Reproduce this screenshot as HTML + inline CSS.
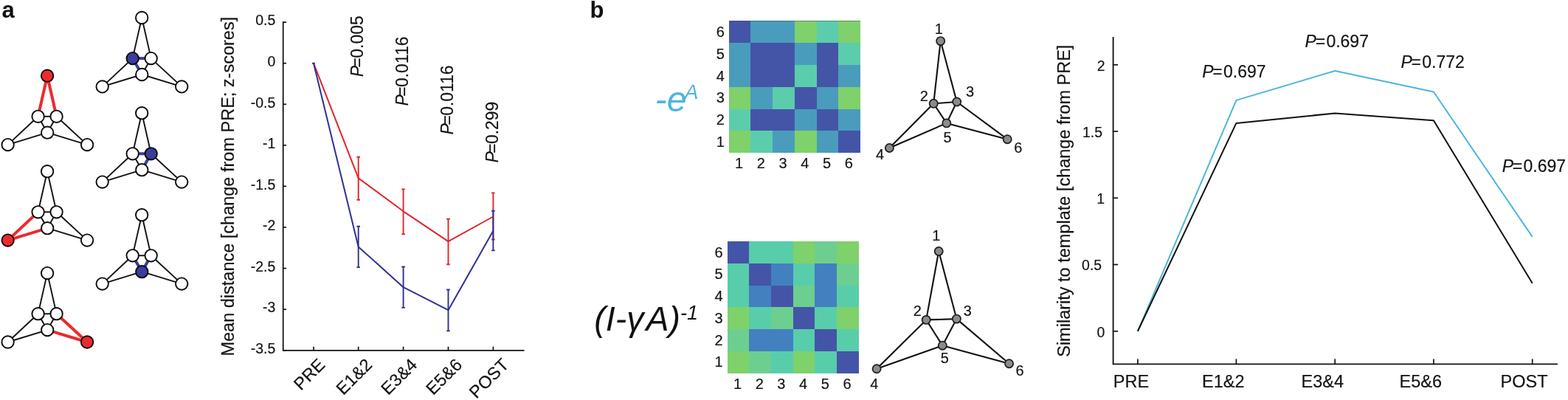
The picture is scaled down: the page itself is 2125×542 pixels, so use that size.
<!DOCTYPE html>
<html lang="en">
<head>
<meta charset="utf-8">
<title>Figure</title>
<style>
html,body{margin:0;padding:0;background:#fff;}
body{width:2125px;height:542px;overflow:hidden;}
svg{display:block;font-family:"Liberation Sans", Arial, Helvetica, sans-serif;fill:#111111;}
svg text{white-space:pre;stroke:#111111;stroke-width:0.15px;stroke-linejoin:round;}
svg text.b{stroke:none;}
svg text.lb{stroke:none;fill:#4db5dd;}
</style>
</head>
<body>
<svg width="2125" height="542" viewBox="0 0 2125 542">
<rect x="0" y="0" width="2125" height="542" fill="#ffffff"/>
<text x="2.5" y="24.4" font-size="31" font-weight="bold" class="b">a</text>
<text x="799.4" y="24.4" font-size="31" font-weight="bold" class="b">b</text>
<g><line x1="51.6" y1="157.8" x2="76.6" y2="157.8" stroke="#111111" stroke-width="1.9"/><line x1="51.6" y1="157.8" x2="64.2" y2="179.7" stroke="#111111" stroke-width="1.9"/><line x1="76.6" y1="157.8" x2="64.2" y2="179.7" stroke="#111111" stroke-width="1.9"/><line x1="51.6" y1="157.8" x2="10.6" y2="196.1" stroke="#111111" stroke-width="1.9"/><line x1="10.6" y1="196.1" x2="64.2" y2="179.7" stroke="#111111" stroke-width="1.9"/><line x1="76.6" y1="157.8" x2="118.1" y2="196.1" stroke="#111111" stroke-width="1.9"/><line x1="64.2" y1="179.7" x2="118.1" y2="196.1" stroke="#111111" stroke-width="1.9"/><line x1="64.1" y1="102.7" x2="51.6" y2="157.8" stroke="#ec2a2e" stroke-width="4"/><line x1="64.1" y1="102.7" x2="76.6" y2="157.8" stroke="#ec2a2e" stroke-width="4"/><circle cx="64.1" cy="102.7" r="8.2" fill="#ec2a2e" stroke="#0a0a0a" stroke-width="1.9"/><circle cx="51.6" cy="157.8" r="8.2" fill="#fff" stroke="#0a0a0a" stroke-width="1.9"/><circle cx="76.6" cy="157.8" r="8.2" fill="#fff" stroke="#0a0a0a" stroke-width="1.9"/><circle cx="64.2" cy="179.7" r="8.2" fill="#fff" stroke="#0a0a0a" stroke-width="1.9"/><circle cx="10.6" cy="196.1" r="8.2" fill="#fff" stroke="#0a0a0a" stroke-width="1.9"/><circle cx="118.1" cy="196.1" r="8.2" fill="#fff" stroke="#0a0a0a" stroke-width="1.9"/></g>
<g><line x1="64.1" y1="232.2" x2="51.6" y2="287.3" stroke="#111111" stroke-width="1.9"/><line x1="64.1" y1="232.2" x2="76.6" y2="287.3" stroke="#111111" stroke-width="1.9"/><line x1="51.6" y1="287.3" x2="76.6" y2="287.3" stroke="#111111" stroke-width="1.9"/><line x1="51.6" y1="287.3" x2="64.2" y2="309.2" stroke="#111111" stroke-width="1.9"/><line x1="76.6" y1="287.3" x2="64.2" y2="309.2" stroke="#111111" stroke-width="1.9"/><line x1="76.6" y1="287.3" x2="118.1" y2="325.6" stroke="#111111" stroke-width="1.9"/><line x1="64.2" y1="309.2" x2="118.1" y2="325.6" stroke="#111111" stroke-width="1.9"/><line x1="51.6" y1="287.3" x2="10.6" y2="325.6" stroke="#ec2a2e" stroke-width="4"/><line x1="10.6" y1="325.6" x2="64.2" y2="309.2" stroke="#ec2a2e" stroke-width="4"/><circle cx="64.1" cy="232.2" r="8.2" fill="#fff" stroke="#0a0a0a" stroke-width="1.9"/><circle cx="51.6" cy="287.3" r="8.2" fill="#fff" stroke="#0a0a0a" stroke-width="1.9"/><circle cx="76.6" cy="287.3" r="8.2" fill="#fff" stroke="#0a0a0a" stroke-width="1.9"/><circle cx="64.2" cy="309.2" r="8.2" fill="#fff" stroke="#0a0a0a" stroke-width="1.9"/><circle cx="10.6" cy="325.6" r="8.2" fill="#ec2a2e" stroke="#0a0a0a" stroke-width="1.9"/><circle cx="118.1" cy="325.6" r="8.2" fill="#fff" stroke="#0a0a0a" stroke-width="1.9"/></g>
<g><line x1="64.1" y1="370.1" x2="51.6" y2="425.2" stroke="#111111" stroke-width="1.9"/><line x1="64.1" y1="370.1" x2="76.6" y2="425.2" stroke="#111111" stroke-width="1.9"/><line x1="51.6" y1="425.2" x2="76.6" y2="425.2" stroke="#111111" stroke-width="1.9"/><line x1="51.6" y1="425.2" x2="64.2" y2="447.1" stroke="#111111" stroke-width="1.9"/><line x1="76.6" y1="425.2" x2="64.2" y2="447.1" stroke="#111111" stroke-width="1.9"/><line x1="51.6" y1="425.2" x2="10.6" y2="463.5" stroke="#111111" stroke-width="1.9"/><line x1="10.6" y1="463.5" x2="64.2" y2="447.1" stroke="#111111" stroke-width="1.9"/><line x1="76.6" y1="425.2" x2="118.1" y2="463.5" stroke="#ec2a2e" stroke-width="4"/><line x1="64.2" y1="447.1" x2="118.1" y2="463.5" stroke="#ec2a2e" stroke-width="4"/><circle cx="64.1" cy="370.1" r="8.2" fill="#fff" stroke="#0a0a0a" stroke-width="1.9"/><circle cx="51.6" cy="425.2" r="8.2" fill="#fff" stroke="#0a0a0a" stroke-width="1.9"/><circle cx="76.6" cy="425.2" r="8.2" fill="#fff" stroke="#0a0a0a" stroke-width="1.9"/><circle cx="64.2" cy="447.1" r="8.2" fill="#fff" stroke="#0a0a0a" stroke-width="1.9"/><circle cx="10.6" cy="463.5" r="8.2" fill="#fff" stroke="#0a0a0a" stroke-width="1.9"/><circle cx="118.1" cy="463.5" r="8.2" fill="#ec2a2e" stroke="#0a0a0a" stroke-width="1.9"/></g>
<g><line x1="192.2" y1="24.0" x2="179.7" y2="79.1" stroke="#111111" stroke-width="1.9"/><line x1="192.2" y1="24.0" x2="204.7" y2="79.1" stroke="#111111" stroke-width="1.9"/><line x1="204.7" y1="79.1" x2="192.3" y2="101.0" stroke="#111111" stroke-width="1.9"/><line x1="179.7" y1="79.1" x2="138.7" y2="117.4" stroke="#111111" stroke-width="1.9"/><line x1="138.7" y1="117.4" x2="192.3" y2="101.0" stroke="#111111" stroke-width="1.9"/><line x1="204.7" y1="79.1" x2="246.2" y2="117.4" stroke="#111111" stroke-width="1.9"/><line x1="192.3" y1="101.0" x2="246.2" y2="117.4" stroke="#111111" stroke-width="1.9"/><line x1="179.7" y1="79.1" x2="204.7" y2="79.1" stroke="#393d9c" stroke-width="4"/><line x1="179.7" y1="79.1" x2="192.3" y2="101.0" stroke="#393d9c" stroke-width="4"/><circle cx="192.2" cy="24.0" r="8.2" fill="#fff" stroke="#0a0a0a" stroke-width="1.9"/><circle cx="179.7" cy="79.1" r="8.2" fill="#393d9c" stroke="#0a0a0a" stroke-width="1.9"/><circle cx="204.7" cy="79.1" r="8.2" fill="#fff" stroke="#0a0a0a" stroke-width="1.9"/><circle cx="192.3" cy="101.0" r="8.2" fill="#fff" stroke="#0a0a0a" stroke-width="1.9"/><circle cx="138.7" cy="117.4" r="8.2" fill="#fff" stroke="#0a0a0a" stroke-width="1.9"/><circle cx="246.2" cy="117.4" r="8.2" fill="#fff" stroke="#0a0a0a" stroke-width="1.9"/></g>
<g><line x1="192.2" y1="153.2" x2="179.7" y2="208.3" stroke="#111111" stroke-width="1.9"/><line x1="192.2" y1="153.2" x2="204.7" y2="208.3" stroke="#111111" stroke-width="1.9"/><line x1="179.7" y1="208.3" x2="192.3" y2="230.2" stroke="#111111" stroke-width="1.9"/><line x1="179.7" y1="208.3" x2="138.7" y2="246.6" stroke="#111111" stroke-width="1.9"/><line x1="138.7" y1="246.6" x2="192.3" y2="230.2" stroke="#111111" stroke-width="1.9"/><line x1="204.7" y1="208.3" x2="246.2" y2="246.6" stroke="#111111" stroke-width="1.9"/><line x1="192.3" y1="230.2" x2="246.2" y2="246.6" stroke="#111111" stroke-width="1.9"/><line x1="179.7" y1="208.3" x2="204.7" y2="208.3" stroke="#393d9c" stroke-width="4"/><line x1="204.7" y1="208.3" x2="192.3" y2="230.2" stroke="#393d9c" stroke-width="4"/><circle cx="192.2" cy="153.2" r="8.2" fill="#fff" stroke="#0a0a0a" stroke-width="1.9"/><circle cx="179.7" cy="208.3" r="8.2" fill="#fff" stroke="#0a0a0a" stroke-width="1.9"/><circle cx="204.7" cy="208.3" r="8.2" fill="#393d9c" stroke="#0a0a0a" stroke-width="1.9"/><circle cx="192.3" cy="230.2" r="8.2" fill="#fff" stroke="#0a0a0a" stroke-width="1.9"/><circle cx="138.7" cy="246.6" r="8.2" fill="#fff" stroke="#0a0a0a" stroke-width="1.9"/><circle cx="246.2" cy="246.6" r="8.2" fill="#fff" stroke="#0a0a0a" stroke-width="1.9"/></g>
<g><line x1="192.2" y1="291.2" x2="179.7" y2="346.3" stroke="#111111" stroke-width="1.9"/><line x1="192.2" y1="291.2" x2="204.7" y2="346.3" stroke="#111111" stroke-width="1.9"/><line x1="179.7" y1="346.3" x2="204.7" y2="346.3" stroke="#111111" stroke-width="1.9"/><line x1="179.7" y1="346.3" x2="138.7" y2="384.6" stroke="#111111" stroke-width="1.9"/><line x1="138.7" y1="384.6" x2="192.3" y2="368.2" stroke="#111111" stroke-width="1.9"/><line x1="204.7" y1="346.3" x2="246.2" y2="384.6" stroke="#111111" stroke-width="1.9"/><line x1="192.3" y1="368.2" x2="246.2" y2="384.6" stroke="#111111" stroke-width="1.9"/><line x1="179.7" y1="346.3" x2="192.3" y2="368.2" stroke="#393d9c" stroke-width="4"/><line x1="204.7" y1="346.3" x2="192.3" y2="368.2" stroke="#393d9c" stroke-width="4"/><circle cx="192.2" cy="291.2" r="8.2" fill="#fff" stroke="#0a0a0a" stroke-width="1.9"/><circle cx="179.7" cy="346.3" r="8.2" fill="#fff" stroke="#0a0a0a" stroke-width="1.9"/><circle cx="204.7" cy="346.3" r="8.2" fill="#fff" stroke="#0a0a0a" stroke-width="1.9"/><circle cx="192.3" cy="368.2" r="8.2" fill="#393d9c" stroke="#0a0a0a" stroke-width="1.9"/><circle cx="138.7" cy="384.6" r="8.2" fill="#fff" stroke="#0a0a0a" stroke-width="1.9"/><circle cx="246.2" cy="384.6" r="8.2" fill="#fff" stroke="#0a0a0a" stroke-width="1.9"/></g>
<path d="M383.7,29.25 V474.75 H710.6" fill="none" stroke="#111111" stroke-width="1.75"/>
<line x1="383.7" y1="30.1" x2="388.0" y2="30.1" stroke="#111111" stroke-width="1.7"/>
<text x="373.3" y="34.3" font-size="19.5" text-anchor="end">0.5</text>
<line x1="383.7" y1="85.7" x2="388.0" y2="85.7" stroke="#111111" stroke-width="1.7"/>
<text x="373.3" y="89.9" font-size="19.5" text-anchor="end">0</text>
<line x1="383.7" y1="141.3" x2="388.0" y2="141.3" stroke="#111111" stroke-width="1.7"/>
<text x="373.3" y="145.5" font-size="19.5" text-anchor="end">-0.5</text>
<line x1="383.7" y1="196.8" x2="388.0" y2="196.8" stroke="#111111" stroke-width="1.7"/>
<text x="373.3" y="201.0" font-size="19.5" text-anchor="end">-1</text>
<line x1="383.7" y1="252.4" x2="388.0" y2="252.4" stroke="#111111" stroke-width="1.7"/>
<text x="373.3" y="256.6" font-size="19.5" text-anchor="end">-1.5</text>
<line x1="383.7" y1="308.0" x2="388.0" y2="308.0" stroke="#111111" stroke-width="1.7"/>
<text x="373.3" y="312.2" font-size="19.5" text-anchor="end">-2</text>
<line x1="383.7" y1="363.6" x2="388.0" y2="363.6" stroke="#111111" stroke-width="1.7"/>
<text x="373.3" y="367.8" font-size="19.5" text-anchor="end">-2.5</text>
<line x1="383.7" y1="419.2" x2="388.0" y2="419.2" stroke="#111111" stroke-width="1.7"/>
<text x="373.3" y="423.4" font-size="19.5" text-anchor="end">-3</text>
<line x1="383.7" y1="474.8" x2="388.0" y2="474.8" stroke="#111111" stroke-width="1.7"/>
<text x="373.3" y="478.9" font-size="19.5" text-anchor="end">-3.5</text>
<line x1="425" y1="474.75" x2="425" y2="469.75" stroke="#111111" stroke-width="1.7"/>
<text transform="translate(424.8,512.8) rotate(-45)" font-size="23.5" text-anchor="middle">PRE</text>
<line x1="485.7" y1="474.75" x2="485.7" y2="469.75" stroke="#111111" stroke-width="1.7"/>
<text transform="translate(485.5,516.0) rotate(-45)" font-size="23.5" text-anchor="middle">E1&amp;2</text>
<line x1="546.6" y1="474.75" x2="546.6" y2="469.75" stroke="#111111" stroke-width="1.7"/>
<text transform="translate(546.4,516.0) rotate(-45)" font-size="23.5" text-anchor="middle">E3&amp;4</text>
<line x1="607.5" y1="474.75" x2="607.5" y2="469.75" stroke="#111111" stroke-width="1.7"/>
<text transform="translate(607.3,516.0) rotate(-45)" font-size="23.5" text-anchor="middle">E5&amp;6</text>
<line x1="668.4" y1="474.75" x2="668.4" y2="469.75" stroke="#111111" stroke-width="1.7"/>
<text transform="translate(668.2,518.3) rotate(-45)" font-size="23.5" text-anchor="middle">POST</text>
<text transform="translate(317,252.7) rotate(-90)" font-size="23.5" text-anchor="middle">Mean distance [change from PRE; z-scores]</text>
<path d="M425.0,85.7 L485.7,241.4 L546.6,286.3 L607.5,327.2 L668.4,293.5" fill="none" stroke="#e1252b" stroke-width="2" stroke-linejoin="round"/>
<path d="M423,85.68125 h4" fill="none" stroke="#e1252b" stroke-width="1.6"/>
<path d="M485.7,212.7 V270.8 M483.4,212.7 h4.6 M483.4,270.8 h4.6" fill="none" stroke="#e1252b" stroke-width="1.9"/>
<path d="M546.6,256.4 V317.3 M544.3000000000001,256.4 h4.6 M544.3000000000001,317.3 h4.6" fill="none" stroke="#e1252b" stroke-width="1.9"/>
<path d="M607.5,296.8 V358.2 M605.2,296.8 h4.6 M605.2,358.2 h4.6" fill="none" stroke="#e1252b" stroke-width="1.9"/>
<path d="M668.4,261.4 V324.5 M666.1,261.4 h4.6 M666.1,324.5 h4.6" fill="none" stroke="#e1252b" stroke-width="1.9"/>
<path d="M425.0,85.7 L485.7,334.4 L546.6,389.2 L607.5,420.2 L668.4,312.8" fill="none" stroke="#2e3192" stroke-width="2" stroke-linejoin="round"/>
<path d="M423,85.68125 h4" fill="none" stroke="#2e3192" stroke-width="1.6"/>
<path d="M485.7,306.8 V362.1 M483.4,306.8 h4.6 M483.4,362.1 h4.6" fill="none" stroke="#2e3192" stroke-width="1.9"/>
<path d="M546.6,361.5 V416.9 M544.3000000000001,361.5 h4.6 M544.3000000000001,416.9 h4.6" fill="none" stroke="#2e3192" stroke-width="1.9"/>
<path d="M607.5,392.5 V448.4 M605.2,392.5 h4.6 M605.2,448.4 h4.6" fill="none" stroke="#2e3192" stroke-width="1.9"/>
<path d="M668.4,285.7 V339.4 M666.1,285.7 h4.6 M666.1,339.4 h4.6" fill="none" stroke="#2e3192" stroke-width="1.9"/>
<text transform="translate(492.2,104.3) rotate(-90) scale(0.955,1)" font-size="24"><tspan font-style="italic">P</tspan><tspan dx="-2.6">=</tspan><tspan dx="-0.6">0.005</tspan></text>
<text transform="translate(553,143.6) rotate(-90) scale(0.955,1)" font-size="24"><tspan font-style="italic">P</tspan><tspan dx="-2.6">=</tspan><tspan dx="-0.6">0.0116</tspan></text>
<text transform="translate(613.8,182.4) rotate(-90) scale(0.955,1)" font-size="24"><tspan font-style="italic">P</tspan><tspan dx="-2.6">=</tspan><tspan dx="-0.6">0.0116</tspan></text>
<text transform="translate(674.8,220.6) rotate(-90) scale(0.955,1)" font-size="24"><tspan font-style="italic">P</tspan><tspan dx="-2.6">=</tspan><tspan dx="-0.6">0.299</tspan></text>
<rect x="988" y="28" width="29" height="30" fill="#4455a8" shape-rendering="crispEdges"/>
<rect x="1017" y="28" width="30" height="30" fill="#4a9cbc" shape-rendering="crispEdges"/>
<rect x="1047" y="28" width="30" height="30" fill="#4a9cbc" shape-rendering="crispEdges"/>
<rect x="1077" y="28" width="30" height="30" fill="#7fd16b" shape-rendering="crispEdges"/>
<rect x="1107" y="28" width="29" height="30" fill="#5bcdac" shape-rendering="crispEdges"/>
<rect x="1136" y="28" width="30" height="30" fill="#7fd16b" shape-rendering="crispEdges"/>
<rect x="988" y="58" width="29" height="30" fill="#4a9cbc" shape-rendering="crispEdges"/>
<rect x="1017" y="58" width="30" height="30" fill="#4455a8" shape-rendering="crispEdges"/>
<rect x="1047" y="58" width="30" height="30" fill="#4455a8" shape-rendering="crispEdges"/>
<rect x="1077" y="58" width="30" height="30" fill="#4a9cbc" shape-rendering="crispEdges"/>
<rect x="1107" y="58" width="29" height="30" fill="#4455a8" shape-rendering="crispEdges"/>
<rect x="1136" y="58" width="30" height="30" fill="#5bcdac" shape-rendering="crispEdges"/>
<rect x="988" y="88" width="29" height="30" fill="#4a9cbc" shape-rendering="crispEdges"/>
<rect x="1017" y="88" width="30" height="30" fill="#4455a8" shape-rendering="crispEdges"/>
<rect x="1047" y="88" width="30" height="30" fill="#4455a8" shape-rendering="crispEdges"/>
<rect x="1077" y="88" width="30" height="30" fill="#5bcdac" shape-rendering="crispEdges"/>
<rect x="1107" y="88" width="29" height="30" fill="#4455a8" shape-rendering="crispEdges"/>
<rect x="1136" y="88" width="30" height="30" fill="#4a9cbc" shape-rendering="crispEdges"/>
<rect x="988" y="118" width="29" height="30" fill="#7fd16b" shape-rendering="crispEdges"/>
<rect x="1017" y="118" width="30" height="30" fill="#4a9cbc" shape-rendering="crispEdges"/>
<rect x="1047" y="118" width="30" height="30" fill="#5bcdac" shape-rendering="crispEdges"/>
<rect x="1077" y="118" width="30" height="30" fill="#4455a8" shape-rendering="crispEdges"/>
<rect x="1107" y="118" width="29" height="30" fill="#4a9cbc" shape-rendering="crispEdges"/>
<rect x="1136" y="118" width="30" height="30" fill="#7fd16b" shape-rendering="crispEdges"/>
<rect x="988" y="148" width="29" height="29" fill="#5bcdac" shape-rendering="crispEdges"/>
<rect x="1017" y="148" width="30" height="29" fill="#4455a8" shape-rendering="crispEdges"/>
<rect x="1047" y="148" width="30" height="29" fill="#4455a8" shape-rendering="crispEdges"/>
<rect x="1077" y="148" width="30" height="29" fill="#4a9cbc" shape-rendering="crispEdges"/>
<rect x="1107" y="148" width="29" height="29" fill="#4455a8" shape-rendering="crispEdges"/>
<rect x="1136" y="148" width="30" height="29" fill="#4a9cbc" shape-rendering="crispEdges"/>
<rect x="988" y="177" width="29" height="30" fill="#7fd16b" shape-rendering="crispEdges"/>
<rect x="1017" y="177" width="30" height="30" fill="#5bcdac" shape-rendering="crispEdges"/>
<rect x="1047" y="177" width="30" height="30" fill="#4a9cbc" shape-rendering="crispEdges"/>
<rect x="1077" y="177" width="30" height="30" fill="#7fd16b" shape-rendering="crispEdges"/>
<rect x="1107" y="177" width="29" height="30" fill="#4a9cbc" shape-rendering="crispEdges"/>
<rect x="1136" y="177" width="30" height="30" fill="#4455a8" shape-rendering="crispEdges"/>
<text x="1001.6" y="228.1" font-size="20" text-anchor="middle">1</text>
<text x="976.3000000000001" y="198.9" font-size="20" text-anchor="middle">1</text>
<text x="1031.3" y="228.1" font-size="20" text-anchor="middle">2</text>
<text x="976.3000000000001" y="169.1" font-size="20" text-anchor="middle">2</text>
<text x="1061.0" y="228.1" font-size="20" text-anchor="middle">3</text>
<text x="976.3000000000001" y="139.3" font-size="20" text-anchor="middle">3</text>
<text x="1090.8" y="228.1" font-size="20" text-anchor="middle">4</text>
<text x="976.3000000000001" y="109.6" font-size="20" text-anchor="middle">4</text>
<text x="1120.5" y="228.1" font-size="20" text-anchor="middle">5</text>
<text x="976.3000000000001" y="79.8" font-size="20" text-anchor="middle">5</text>
<text x="1150.2" y="228.1" font-size="20" text-anchor="middle">6</text>
<text x="976.3000000000001" y="50.0" font-size="20" text-anchor="middle">6</text>
<rect x="988" y="28" width="178" height="1" fill="#3c4660" fill-opacity="0.5" shape-rendering="crispEdges"/>
<rect x="986" y="327" width="29" height="30" fill="#4455a8" shape-rendering="crispEdges"/>
<rect x="1015" y="327" width="30" height="30" fill="#58cdaa" shape-rendering="crispEdges"/>
<rect x="1045" y="327" width="30" height="30" fill="#58cdaa" shape-rendering="crispEdges"/>
<rect x="1075" y="327" width="29" height="30" fill="#7fd16b" shape-rendering="crispEdges"/>
<rect x="1104" y="327" width="30" height="30" fill="#6ccf90" shape-rendering="crispEdges"/>
<rect x="1134" y="327" width="30" height="30" fill="#7fd16b" shape-rendering="crispEdges"/>
<rect x="986" y="357" width="29" height="30" fill="#58cdaa" shape-rendering="crispEdges"/>
<rect x="1015" y="357" width="30" height="30" fill="#4455a8" shape-rendering="crispEdges"/>
<rect x="1045" y="357" width="30" height="30" fill="#4280c0" shape-rendering="crispEdges"/>
<rect x="1075" y="357" width="29" height="30" fill="#58cdaa" shape-rendering="crispEdges"/>
<rect x="1104" y="357" width="30" height="30" fill="#4280c0" shape-rendering="crispEdges"/>
<rect x="1134" y="357" width="30" height="30" fill="#6ccf90" shape-rendering="crispEdges"/>
<rect x="986" y="387" width="29" height="29" fill="#58cdaa" shape-rendering="crispEdges"/>
<rect x="1015" y="387" width="30" height="29" fill="#4280c0" shape-rendering="crispEdges"/>
<rect x="1045" y="387" width="30" height="29" fill="#4455a8" shape-rendering="crispEdges"/>
<rect x="1075" y="387" width="29" height="29" fill="#6ccf90" shape-rendering="crispEdges"/>
<rect x="1104" y="387" width="30" height="29" fill="#4280c0" shape-rendering="crispEdges"/>
<rect x="1134" y="387" width="30" height="29" fill="#58cdaa" shape-rendering="crispEdges"/>
<rect x="986" y="416" width="29" height="30" fill="#7fd16b" shape-rendering="crispEdges"/>
<rect x="1015" y="416" width="30" height="30" fill="#58cdaa" shape-rendering="crispEdges"/>
<rect x="1045" y="416" width="30" height="30" fill="#6ccf90" shape-rendering="crispEdges"/>
<rect x="1075" y="416" width="29" height="30" fill="#4455a8" shape-rendering="crispEdges"/>
<rect x="1104" y="416" width="30" height="30" fill="#58cdaa" shape-rendering="crispEdges"/>
<rect x="1134" y="416" width="30" height="30" fill="#7fd16b" shape-rendering="crispEdges"/>
<rect x="986" y="446" width="29" height="30" fill="#6ccf90" shape-rendering="crispEdges"/>
<rect x="1015" y="446" width="30" height="30" fill="#4280c0" shape-rendering="crispEdges"/>
<rect x="1045" y="446" width="30" height="30" fill="#4280c0" shape-rendering="crispEdges"/>
<rect x="1075" y="446" width="29" height="30" fill="#58cdaa" shape-rendering="crispEdges"/>
<rect x="1104" y="446" width="30" height="30" fill="#4455a8" shape-rendering="crispEdges"/>
<rect x="1134" y="446" width="30" height="30" fill="#58cdaa" shape-rendering="crispEdges"/>
<rect x="986" y="476" width="29" height="30" fill="#7fd16b" shape-rendering="crispEdges"/>
<rect x="1015" y="476" width="30" height="30" fill="#6ccf90" shape-rendering="crispEdges"/>
<rect x="1045" y="476" width="30" height="30" fill="#58cdaa" shape-rendering="crispEdges"/>
<rect x="1075" y="476" width="29" height="30" fill="#7fd16b" shape-rendering="crispEdges"/>
<rect x="1104" y="476" width="30" height="30" fill="#58cdaa" shape-rendering="crispEdges"/>
<rect x="1134" y="476" width="30" height="30" fill="#4455a8" shape-rendering="crispEdges"/>
<text x="999.5" y="526.5" font-size="20" text-anchor="middle">1</text>
<text x="974.0" y="497.2" font-size="20" text-anchor="middle">1</text>
<text x="1029.2" y="526.5" font-size="20" text-anchor="middle">2</text>
<text x="974.0" y="467.5" font-size="20" text-anchor="middle">2</text>
<text x="1058.9" y="526.5" font-size="20" text-anchor="middle">3</text>
<text x="974.0" y="437.8" font-size="20" text-anchor="middle">3</text>
<text x="1088.6" y="526.5" font-size="20" text-anchor="middle">4</text>
<text x="974.0" y="408.1" font-size="20" text-anchor="middle">4</text>
<text x="1118.3" y="526.5" font-size="20" text-anchor="middle">5</text>
<text x="974.0" y="378.4" font-size="20" text-anchor="middle">5</text>
<text x="1148.0" y="526.5" font-size="20" text-anchor="middle">6</text>
<text x="974.0" y="348.7" font-size="20" text-anchor="middle">6</text>
<text x="887.6" y="150.5" font-size="48.5" font-style="italic" class="lb">-e<tspan font-size="28" dy="-16.8" dx="-3">A</tspan></text>
<text x="805.3" y="447.6" font-size="46.5" font-style="italic" class="b">(I-γ<tspan dx="3">A</tspan>)<tspan font-size="27" dy="-15">-1</tspan></text>
<g><line x1="1274.7" y1="55.6" x2="1265.2" y2="140.3" stroke="#111111" stroke-width="2.1"/><line x1="1274.7" y1="55.6" x2="1296.7" y2="138.0" stroke="#111111" stroke-width="2.1"/><line x1="1265.2" y1="140.3" x2="1296.7" y2="138.0" stroke="#111111" stroke-width="2.1"/><line x1="1265.2" y1="140.3" x2="1282.8" y2="166.9" stroke="#111111" stroke-width="2.1"/><line x1="1296.7" y1="138.0" x2="1282.8" y2="166.9" stroke="#111111" stroke-width="2.1"/><line x1="1265.2" y1="140.3" x2="1205.4" y2="200.5" stroke="#111111" stroke-width="2.1"/><line x1="1205.4" y1="200.5" x2="1282.8" y2="166.9" stroke="#111111" stroke-width="2.1"/><line x1="1296.7" y1="138.0" x2="1365.2" y2="188.7" stroke="#111111" stroke-width="2.1"/><line x1="1282.8" y1="166.9" x2="1365.2" y2="188.7" stroke="#111111" stroke-width="2.1"/><circle cx="1274.7" cy="55.6" r="5.6" fill="#8b8b8b" stroke="#1c1c1c" stroke-width="1.7"/><circle cx="1265.2" cy="140.3" r="5.6" fill="#8b8b8b" stroke="#1c1c1c" stroke-width="1.7"/><circle cx="1296.7" cy="138.0" r="5.6" fill="#8b8b8b" stroke="#1c1c1c" stroke-width="1.7"/><circle cx="1282.8" cy="166.9" r="5.6" fill="#8b8b8b" stroke="#1c1c1c" stroke-width="1.7"/><circle cx="1205.4" cy="200.5" r="5.6" fill="#8b8b8b" stroke="#1c1c1c" stroke-width="1.7"/><circle cx="1365.2" cy="188.7" r="5.6" fill="#8b8b8b" stroke="#1c1c1c" stroke-width="1.7"/><text x="1272.2" y="45.8" font-size="20" text-anchor="middle">1</text><text x="1252.4" y="137.2" font-size="20" text-anchor="middle">2</text><text x="1314.6" y="130.8" font-size="20" text-anchor="middle">3</text><text x="1284.0" y="193.4" font-size="20" text-anchor="middle">5</text><text x="1192.5" y="215.7" font-size="20" text-anchor="middle">4</text><text x="1379.8" y="206.7" font-size="20" text-anchor="middle">6</text></g>
<g><line x1="1272.2" y1="340.5" x2="1255.2" y2="433.4" stroke="#111111" stroke-width="2.1"/><line x1="1272.2" y1="340.5" x2="1296.4" y2="432.1" stroke="#111111" stroke-width="2.1"/><line x1="1255.2" y1="433.4" x2="1296.4" y2="432.1" stroke="#111111" stroke-width="2.1"/><line x1="1255.2" y1="433.4" x2="1277.3" y2="468.2" stroke="#111111" stroke-width="2.1"/><line x1="1296.4" y1="432.1" x2="1277.3" y2="468.2" stroke="#111111" stroke-width="2.1"/><line x1="1255.2" y1="433.4" x2="1188.1" y2="499.8" stroke="#111111" stroke-width="2.1"/><line x1="1188.1" y1="499.8" x2="1277.3" y2="468.2" stroke="#111111" stroke-width="2.1"/><line x1="1296.4" y1="432.1" x2="1367.6" y2="492.7" stroke="#111111" stroke-width="2.1"/><line x1="1277.3" y1="468.2" x2="1367.6" y2="492.7" stroke="#111111" stroke-width="2.1"/><circle cx="1272.2" cy="340.5" r="5.6" fill="#8b8b8b" stroke="#1c1c1c" stroke-width="1.7"/><circle cx="1255.2" cy="433.4" r="5.6" fill="#8b8b8b" stroke="#1c1c1c" stroke-width="1.7"/><circle cx="1296.4" cy="432.1" r="5.6" fill="#8b8b8b" stroke="#1c1c1c" stroke-width="1.7"/><circle cx="1277.3" cy="468.2" r="5.6" fill="#8b8b8b" stroke="#1c1c1c" stroke-width="1.7"/><circle cx="1188.1" cy="499.8" r="5.6" fill="#8b8b8b" stroke="#1c1c1c" stroke-width="1.7"/><circle cx="1367.6" cy="492.7" r="5.6" fill="#8b8b8b" stroke="#1c1c1c" stroke-width="1.7"/><text x="1268.8" y="325.7" font-size="20" text-anchor="middle">1</text><text x="1243.4" y="427.5" font-size="20" text-anchor="middle">2</text><text x="1311.2" y="427.5" font-size="20" text-anchor="middle">3</text><text x="1280.2" y="492.4" font-size="20" text-anchor="middle">5</text><text x="1184.8" y="526.7" font-size="20" text-anchor="middle">4</text><text x="1382.0" y="508.5" font-size="20" text-anchor="middle">6</text></g>
<path d="M1508.6,50.1 V493.4 H2110.9" fill="none" stroke="#111111" stroke-width="1.85"/>
<line x1="1508.6" y1="87.8" x2="1515.1" y2="87.8" stroke="#111111" stroke-width="1.7"/>
<text x="1497.6" y="95.7" font-size="19.5" text-anchor="end">2</text>
<line x1="1508.6" y1="178.0" x2="1515.1" y2="178.0" stroke="#111111" stroke-width="1.7"/>
<text x="1494.0" y="185.9" font-size="19.5" text-anchor="end">1.5</text>
<line x1="1508.6" y1="268.3" x2="1515.1" y2="268.3" stroke="#111111" stroke-width="1.7"/>
<text x="1497.1" y="276.2" font-size="19.5" text-anchor="end">1</text>
<line x1="1508.6" y1="358.5" x2="1515.1" y2="358.5" stroke="#111111" stroke-width="1.7"/>
<text x="1493.1999999999998" y="366.4" font-size="19.5" text-anchor="end">0.5</text>
<line x1="1508.6" y1="448.8" x2="1515.1" y2="448.8" stroke="#111111" stroke-width="1.7"/>
<text x="1497.3" y="456.7" font-size="19.5" text-anchor="end">0</text>
<line x1="1541.9" y1="493.4" x2="1541.9" y2="486.4" stroke="#111111" stroke-width="1.7"/>
<text x="1508.8" y="524.7" font-size="23.5">PRE</text>
<line x1="1675.4" y1="493.4" x2="1675.4" y2="486.4" stroke="#111111" stroke-width="1.7"/>
<text x="1629.1" y="524.7" font-size="23.5">E1&amp;2</text>
<line x1="1809.2" y1="493.4" x2="1809.2" y2="486.4" stroke="#111111" stroke-width="1.7"/>
<text x="1763.5" y="524.7" font-size="23.5">E3&amp;4</text>
<line x1="1942.9" y1="493.4" x2="1942.9" y2="486.4" stroke="#111111" stroke-width="1.7"/>
<text x="1896.5" y="524.7" font-size="23.5">E5&amp;6</text>
<line x1="2076.7" y1="493.4" x2="2076.7" y2="486.4" stroke="#111111" stroke-width="1.7"/>
<text x="2033.6" y="524.7" font-size="23.5">POST</text>
<text transform="translate(1449.5,272.2) rotate(-90)" font-size="23.5" text-anchor="middle">Similarity to template [change from PRE]</text>
<path d="M1541.9,448.8 L1675.4,135.9 L1809.2,96.0 L1942.9,124.5 L2076.7,320.9" fill="none" stroke="#4db5dd" stroke-width="2" stroke-linejoin="round"/>
<path d="M1541.9,448.8 L1675.4,166.9 L1809.2,153.5 L1942.9,163.3 L2076.7,383.8" fill="none" stroke="#111111" stroke-width="2" stroke-linejoin="round"/>
<text x="1629.3" y="104.8" font-size="23"><tspan font-style="italic">P</tspan><tspan dx="-1.3">=</tspan><tspan dx="1.3">0.697</tspan></text>
<text x="1768.6" y="64.3" font-size="23"><tspan font-style="italic">P</tspan><tspan dx="-1.3">=</tspan><tspan dx="1.3">0.697</tspan></text>
<text x="1898.5" y="91.6" font-size="23"><tspan font-style="italic">P</tspan><tspan dx="-1.3">=</tspan><tspan dx="1.3">0.772</tspan></text>
<text x="2035.8" y="233.0" font-size="23"><tspan font-style="italic">P</tspan><tspan dx="-1.3">=</tspan><tspan dx="1.3">0.697</tspan></text>
</svg>
</body>
</html>
